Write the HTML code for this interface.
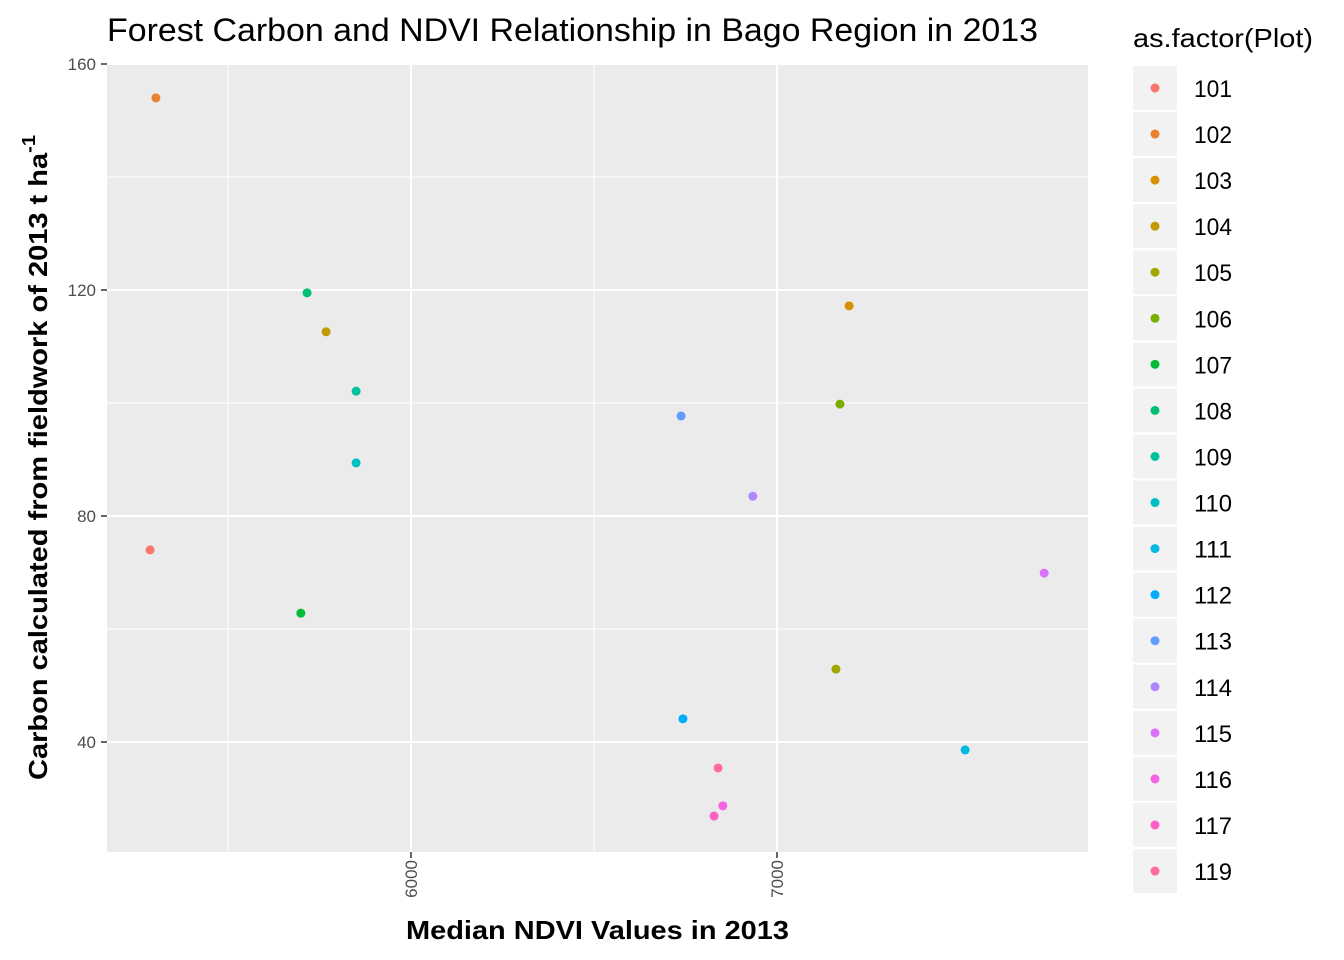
<!DOCTYPE html>
<html><head><meta charset="utf-8"><style>body{margin:0;background:#fff}svg{display:block;font-family:"Liberation Sans",Arial,sans-serif}</style></head>
<body>
<svg id="chart" width="1344" height="960">
<text x="107" y="41" font-size="32" textLength="931" lengthAdjust="spacingAndGlyphs" fill="#000">Forest Carbon and NDVI Relationship in Bago Region in 2013</text>
<rect x="107" y="63" width="981" height="789" fill="#EBEBEB"/>
<g id="grid"></g><g id="pts"></g><g id="axes"></g><g id="legend"></g>
<text transform="translate(47,780) rotate(-90)" font-size="26" font-weight="bold" textLength="645" lengthAdjust="spacingAndGlyphs">Carbon calculated from fieldwork of 2013 t ha<tspan dy="-12" font-size="18">-1</tspan></text>
<text x="406" y="939" font-size="26" font-weight="bold" textLength="383" lengthAdjust="spacingAndGlyphs">Median NDVI Values in 2013</text>
</svg>
<script>
const plots=["101","102","103","104","105","106","107","108","109","110","111","112","113","114","115","116","117","119"];
const ndvi=[5287,5303,7197,5768,7161,7172,5699,5716,5850,5850,7514,6743,6738,6934,7730,6852,6828,6839];
const carbon=[74.0,154.0,117.2,112.6,52.9,99.8,62.8,119.5,102.1,89.4,38.6,44.1,97.7,83.5,69.9,28.7,26.9,35.4];
const colors=["#F8766D","#EA8331","#D89000","#C09B00","#A3A500","#7CAE00","#00BA38","#00BF74","#00C19F","#00BFC4","#00B9E3","#00ADFA","#619CFF","#AE87FF","#DB72FB","#F564E3","#FF61C3","#FF6C9C"];
const xTicks=[6000,7000];
const yTicks=[40,80,120,160];
const NS="http://www.w3.org/2000/svg";
const X=v=>411+(v-6000)*0.366;
const Y=v=>64+(160-v)*5.65;
function mk(t,a,p){const e=document.createElementNS(NS,t);for(const k in a)e.setAttribute(k,a[k]);p.appendChild(e);return e;}
const grid=document.getElementById('grid'),axes=document.getElementById('axes'),pts=document.getElementById('pts'),leg=document.getElementById('legend');
for(const v of [5500,6000,6500,7000]){const l=mk('line',{x1:X(v),x2:X(v),y1:63,y2:852,stroke:'#fff','stroke-width':v%1000?1:2},grid);

}
for(const v of [20,40,60,80,100,120,140,160]){if(Y(v)>852)continue;const l=mk('line',{x1:107,x2:1088,y1:Y(v),y2:Y(v),stroke:'#fff','stroke-width':v%40?1:2},grid);

}
for(const v of xTicks){mk('line',{x1:X(v),x2:X(v),y1:852,y2:858,stroke:'#333','stroke-width':1.5},axes);
const t=mk('text',{x:0,y:0,transform:`translate(${X(v)+6},860) rotate(-90)`,'text-anchor':'end','font-size':17,fill:'#4D4D4D'},axes);t.textContent=v;

}
for(const v of yTicks){mk('line',{x1:101,x2:107,y1:Y(v),y2:Y(v),stroke:'#333','stroke-width':1.5},axes);
const t=mk('text',{x:96,y:Y(v)+6,'text-anchor':'end','font-size':17,fill:'#4D4D4D'},axes);t.textContent=v;

}
plots.forEach((p,i)=>{const c=mk('circle',{cx:X(ndvi[i]),cy:Y(carbon[i]),r:4.5,fill:colors[i]},pts);

});
const lt=mk('text',{x:1133,y:47,'font-size':26,textLength:180,lengthAdjust:'spacingAndGlyphs'},leg);lt.textContent='as.factor(Plot)';


plots.forEach((p,i)=>{const cy=88+i*46.06;
const g=mk('g',{},leg);


mk('rect',{x:1133,y:cy-22,width:44,height:44,fill:'#F2F2F2'},g);
mk('circle',{cx:1155,cy:cy,r:4.5,fill:colors[i]},g);
const t=mk('text',{x:1194,y:cy+9,'font-size':24,textLength:38,lengthAdjust:'spacingAndGlyphs'},g);t.textContent=p;});
</script>
</body></html>
